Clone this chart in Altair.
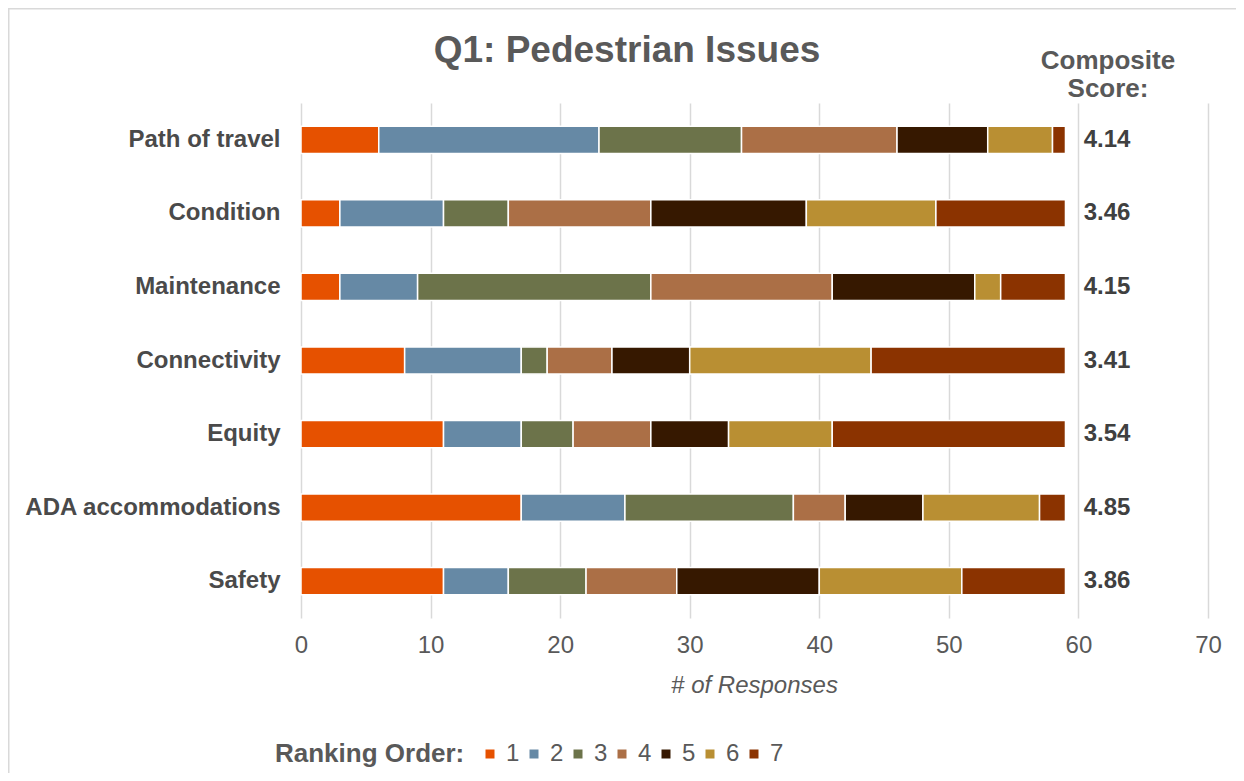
import altair as alt
import pandas as pd

FONT = "Liberation Sans"

categories = ["Path of travel", "Condition", "Maintenance", "Connectivity",
              "Equity", "ADA accommodations", "Safety"]
ranks = ["1", "2", "3", "4", "5", "6", "7"]
rank_1 = [6, 3, 3, 8, 11, 17, 11]
rank_2 = [17, 8, 6, 9, 6, 8, 5]
rank_3 = [11, 5, 18, 2, 4, 13, 6]
rank_4 = [12, 11, 14, 5, 6, 4, 7]
rank_5 = [7, 12, 11, 6, 6, 6, 11]
rank_6 = [5, 10, 2, 14, 8, 9, 11]
rank_7 = [1, 10, 5, 15, 18, 2, 8]
composite = ["4.14", "3.46", "4.15", "3.41", "3.54", "4.85", "3.86"]
colors = ["#E65100", "#6689A5", "#6C734A", "#AB6F46", "#361800", "#B98F33", "#8B3300"]
x_ticks = [0, 10, 20, 30, 40, 50, 60, 70]

series = [rank_1, rank_2, rank_3, rank_4, rank_5, rank_6, rank_7]
rows = []
for r, vals in zip(ranks, series):
    for c, v in zip(categories, vals):
        rows.append({"category": c, "rank": r, "count": v})
df = pd.DataFrame(rows)
score_df = pd.DataFrame({"category": categories, "score": composite})

y_enc = alt.Y("category:N", sort=categories,
              scale=alt.Scale(paddingInner=0.63, paddingOuter=0.315),
              axis=alt.Axis(title=None, domain=False, ticks=False, grid=False,
                            labelPadding=21, labelFontSize=24, labelFontWeight="bold",
                            labelColor="#4A4A4A", labelLimit=400, labelFont=FONT))

bars = alt.Chart(df).mark_bar(stroke="white", strokeWidth=1.5).encode(
    y=y_enc,
    x=alt.X("count:Q", stack="zero", scale=alt.Scale(domain=[0, 70]),
            axis=alt.Axis(values=x_ticks, title="# of Responses", domain=False, ticks=False,
                          grid=True, gridColor="#D9D9D9", gridWidth=1.5, labelFlush=False,
                          labelFontSize=24, labelColor="#595959", labelPadding=15, labelFont=FONT,
                          titleFontSize=24, titleFontStyle="italic", titleFontWeight="normal",
                          titleColor="#595959", titleFont=FONT, titleX=453, titleY=74,
                          titleAlign="center", titleBaseline="alphabetic")),
    color=alt.Color("rank:N", scale=alt.Scale(domain=ranks, range=colors),
                    legend=alt.Legend(title="Ranking Order:", orient="none", legendX=-26, legendY=639,
                                      direction="horizontal", titleOrient="left", titleLimit=400,
                                      titleFontSize=26, titleFontWeight="bold", titleColor="#595959",
                                      titleFont=FONT, labelFont=FONT,
                                      labelFontSize=24, labelColor="#595959", symbolType="square",
                                      symbolSize=81, symbolStrokeWidth=0, labelOffset=4,
                                      columnPadding=2, titlePadding=13, padding=0)),
    order=alt.Order("rank:N", sort="ascending"),
)

scores = alt.Chart(score_df).mark_text(fontSize=24, fontWeight="bold", color="#404040",
                                       align="center", baseline="middle", font=FONT).encode(
    y=alt.Y("category:N", sort=categories),
    x=alt.value(806),
    text="score:N",
)

one = alt.Data(values=[{"k": 1}])

title = alt.Chart(one).mark_text(text="Q1: Pedestrian Issues", fontSize=37, fontWeight="bold",
                                 color="#595959", align="center", baseline="alphabetic",
                                 font=FONT).encode(x=alt.value(326), y=alt.value(-41))

header = alt.Chart(one).mark_text(text=["Composite", "Score:"], fontSize=26, fontWeight="bold",
                                  color="#595959", align="center", baseline="alphabetic",
                                  lineHeight=28, font=FONT).encode(x=alt.value(807), y=alt.value(-34))

frame = alt.Chart(one).mark_rect(filled=False, stroke="#D9D9D9", strokeWidth=1.5).encode(
    x=alt.value(-292.25), x2=alt.value(1500), y=alt.value(-94.25), y2=alt.value(1200))

chart = alt.layer(frame, bars, scores, title, header).properties(
    width=907, height=515,
    autosize=alt.AutoSizeParams(type="none"),
    padding={"left": 293, "top": 95, "right": 28, "bottom": 155},
).configure(font=FONT).configure_view(stroke=None)

chart.save("out.html", embed_options={"renderer": "svg", "actions": False})
